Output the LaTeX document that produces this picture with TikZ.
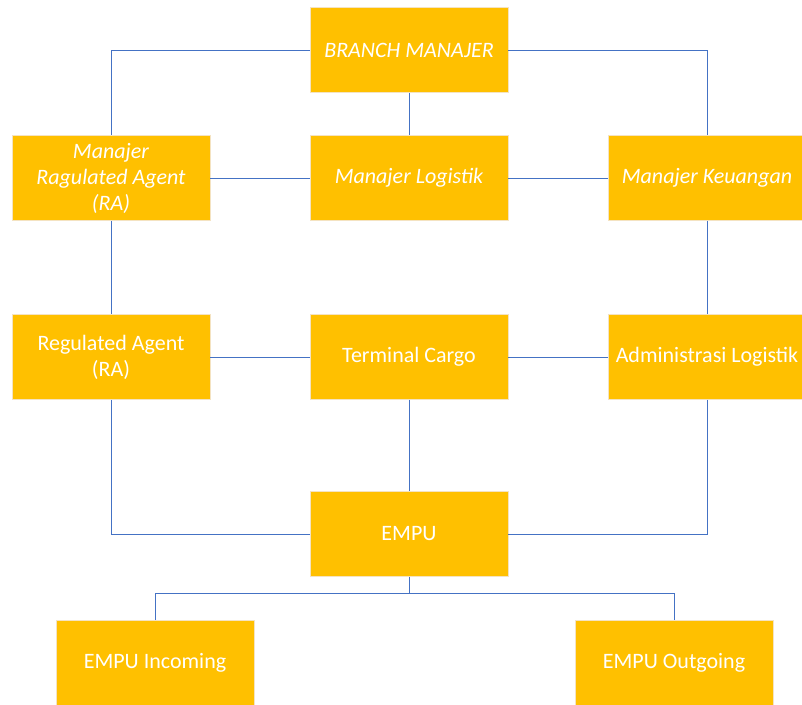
\documentclass[tikz,border=0pt]{standalone}
\usepackage{fontspec}
\setmainfont{Carlito}
\usepackage{tikz}
\usetikzlibrary{positioning}
\definecolor{boxfill}{HTML}{FFC000}
\definecolor{boxline}{HTML}{F4E3C2}
\definecolor{wire}{HTML}{4472C4}
\begin{document}
\begin{tikzpicture}[
x=1pt,y=-1pt,
font=\fontsize{22}{26}\selectfont,
unit/.style={draw=boxline,line width=0.8pt,fill=boxfill,text=white,minimum width=198pt,minimum height=85pt,align=center,inner sep=1pt},
mgr/.style={unit,font=\fontsize{22}{26}\selectfont\itshape},
link/.style={draw=wire,line width=1pt}]
    \useasboundingbox (0,0) rectangle (802,704);

    % Top level
    \node[mgr] (branch) at (409,50) {BRANCH MANAJER};

    % Managers
    \node[mgr] (mra) at (111,178) {Manajer\\Ragulated Agent\\(RA)};
    \node[mgr] (mlog) at (409,178) {Manajer Logistik};
    \node[mgr] (mkeu) at (707,178) {Manajer Keuangan};

    % Units
    \node[unit] (ra) at (111,357) {Regulated Agent\\(RA)};
    \node[unit] (cargo) at (409,357) {Terminal Cargo};
    \node[unit] (adm) at (707,357) {Administrasi Logistik};

    \node[unit] (empu) at (409,534) {EMPU};
    \node[unit] (inc) at (155,663) {EMPU Incoming};
    \node[unit] (out) at (674,663) {EMPU Outgoing};

    \coordinate (fork) at (409,593);

    % Connectors
    \draw[link] (branch.west) -| (mra.north);
    \draw[link] (branch.east) -| (mkeu.north);
    \draw[link] (branch) -- (mlog);
    \draw[link] (mra) -- (mlog);
    \draw[link] (mlog) -- (mkeu);
    \draw[link] (mra) -- (ra);
    \draw[link] (mkeu) -- (adm);
    \draw[link] (ra) -- (cargo);
    \draw[link] (cargo) -- (adm);
    \draw[link] (cargo) -- (empu);
    \draw[link] (ra.south) |- (empu.west);
    \draw[link] (adm.south) |- (empu.east);
    \draw[link] (empu.south) -- (fork) -| (inc.north);
    \draw[link] (fork) -| (out.north);

\end{tikzpicture}
\end{document}
